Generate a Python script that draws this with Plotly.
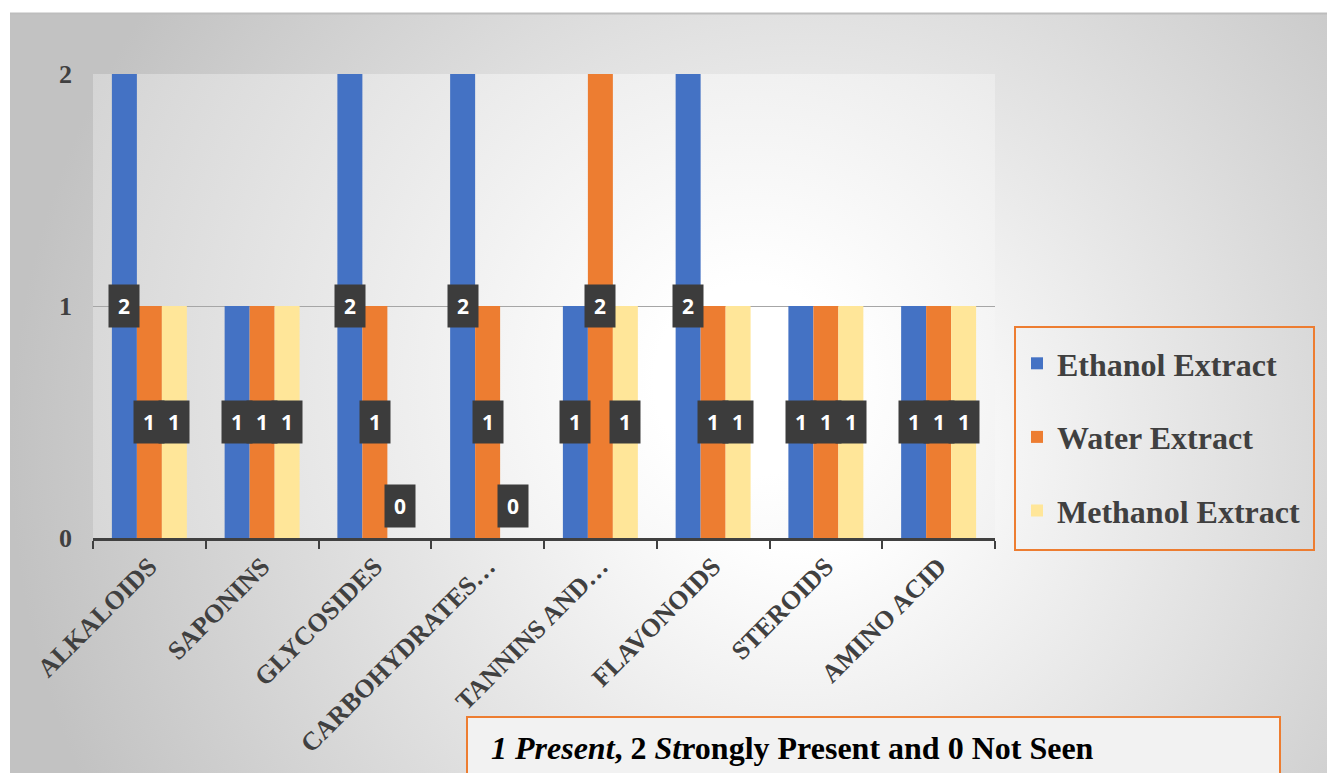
import base64
import plotly.graph_objects as go

categories = ["ALKALOIDS", "SAPONINS", "GLYCOSIDES", "CARBOHYDRATES…",
              "TANNINS AND…", "FLAVONOIDS", "STEROIDS", "AMINO ACID"]
series_names = ["Ethanol Extract", "Water Extract", "Methanol Extract"]
ethanol = [2, 1, 2, 2, 1, 2, 1, 1]
water = [1, 1, 1, 1, 2, 1, 1, 1]
methanol = [1, 1, 0, 0, 1, 1, 1, 1]
y_ticks = [0, 1, 2]
note_parts = [("1 Present", True), (", 2 ", False), ("St", True),
              ("rongly Present and 0 Not Seen", False)]

colors = ["#4472C4", "#ED7D31", "#FFE699"]
series_values = [ethanol, water, methanol]
SERIF = "Liberation Serif"

W, H = 1327, 773
L, R, T, B = 93, 995, 74, 538          # plot area in pixels
pw, ph = R - L, B - T


def px(xp):
    return (xp - L) / pw


def py(yp):
    return (B - yp) / ph


def svg_uri(w, h, cx, cy, r, c0, c1):
    svg = (
        f'<svg xmlns="http://www.w3.org/2000/svg" width="{w}" height="{h}" '
        f'viewBox="0 0 {w} {h}" preserveAspectRatio="none">'
        f'<defs><radialGradient id="g" gradientUnits="userSpaceOnUse" cx="{cx}" cy="{cy}" r="{r}">'
        f'<stop offset="0" stop-color="{c0}"/><stop offset="0.12" stop-color="{c0}"/>'
        f'<stop offset="1" stop-color="{c1}"/>'
        '</radialGradient></defs>'
        f'<rect width="{w}" height="{h}" fill="url(#g)"/>'
        '</svg>'
    )
    return "data:image/svg+xml;base64," + base64.b64encode(svg.encode()).decode()


fig = go.Figure()
for name, vals, col in zip(series_names, series_values, colors):
    fig.add_trace(go.Bar(
        x=categories, y=vals, name=name, legendgroup=name,
        marker=dict(color=col, line=dict(width=0)),
        hoverinfo="x+y+name",
    ))

# data labels
bargap = 0.335
bw = (1 - bargap) / 3
annotations = []
for j, vals in enumerate(series_values):
    for i, v in enumerate(vals):
        a = dict(
            x=i + (j - 1) * bw, y=(v / 2 if v > 0 else 0), xref="x", yref="y",
            text=f"<b>{v}</b>", showarrow=False,
            font=dict(family="Open Sans", size=21, color="white"),
            bgcolor="#3c3c3c", width=30, height=42, borderpad=0,
            xanchor="center", yanchor="middle",
        )
        if v == 0:
            a["yanchor"] = "bottom"
            a["yshift"] = 10
        annotations.append(a)

note_html = "".join(
    f'<span style="font-style:{"italic" if it else "normal"}">{t}</span>'
    for t, it in note_parts
)
annotations.append(dict(
    xref="paper", yref="paper", x=px(489), y=py(748),
    xanchor="left", yanchor="middle", showarrow=False,
    text=note_html,
    font=dict(family=SERIF, size=32, color="black", weight="bold"),
))

shapes = [
    dict(type="rect", xref="paper", yref="paper",
         x0=px(1015), x1=px(1314), y0=py(550), y1=py(327),
         line=dict(color="#ED7D31", width=2), fillcolor="rgba(0,0,0,0)"),
    dict(type="rect", xref="paper", yref="paper",
         x0=px(467), x1=px(1280), y0=py(790), y1=py(717),
         line=dict(color="#ED7D31", width=2), fillcolor="#f2f2f2", layer="below"),
    dict(type="line", xref="paper", yref="paper",
         x0=px(10), x1=px(1327), y0=py(13.5), y1=py(13.5),
         line=dict(color="#bdbdbd", width=2), layer="below"),
]

images = [
    dict(source=svg_uri(1317, 760, 790, 437, 790, "#ffffff", "#c2c2c2"),
         xref="paper", yref="paper", x=px(10), y=py(13), sizex=1317 / pw, sizey=760 / ph,
         xanchor="left", yanchor="top", sizing="stretch", layer="below"),
    dict(source=svg_uri(pw, ph, 657, 306, 800, "#ffffff", "#cfcfcf"),
         xref="paper", yref="paper", x=0, y=1, sizex=1, sizey=1,
         xanchor="left", yanchor="top", sizing="stretch", layer="below"),
]

fig.update_layout(
    width=W, height=H,
    margin=dict(l=L, r=W - R, t=T, b=H - B, pad=0),
    paper_bgcolor="white", plot_bgcolor="rgba(0,0,0,0)",
    barmode="group", bargap=bargap, bargroupgap=0,
    showlegend=True,
    legend=dict(
        x=px(1017), y=py(336), xanchor="left", yanchor="top",
        bgcolor="rgba(0,0,0,0)", borderwidth=0,
        font=dict(family=SERIF, size=32, color="#404040", weight="bold"),
        tracegroupgap=29,
    ),
    xaxis=dict(
        type="category", tickson="boundaries", ticks="outside", ticklen=8,
        tickwidth=2, tickcolor="#404040", showline=True, linewidth=3,
        linecolor="#404040", showgrid=False, tickangle=-45,
        tickfont=dict(family=SERIF, size=26, color="#404040", weight="bold"),
    ),
    yaxis=dict(
        range=[0, 2], tickvals=y_ticks, ticktext=[str(t) for t in y_ticks],
        showgrid=True, gridcolor="#a6a6a6", gridwidth=1, zeroline=False,
        showline=False, ticks="", ticklabelstandoff=20,
        tickfont=dict(family=SERIF, size=26, color="#404040", weight="bold"),
    ),
    annotations=annotations,
    shapes=shapes,
    images=images,
)

fig.write_html("out.html")
